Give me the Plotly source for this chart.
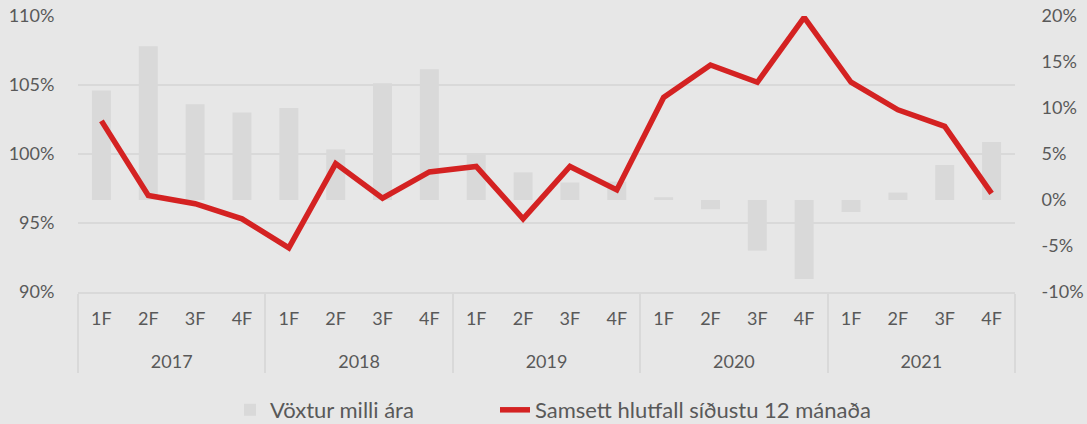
import plotly.graph_objects as go

years = ["2017"] * 4 + ["2018"] * 4 + ["2019"] * 4 + ["2020"] * 4 + ["2021"] * 4
quarters = ["1F", "2F", "3F", "4F"] * 5

# Vöxtur milli ára (right axis, %)
growth = [11.9, 16.7, 10.4, 9.5, 10.0, 5.5, 12.7, 14.2, 5.0, 3.0, 1.9, 2.0,
          0.3, -1.0, -5.5, -8.6, -1.3, 0.8, 3.8, 6.3]
# Samsett hlutfall síðustu 12 mánaða (left axis, %)
combined = [102.4, 97.0, 96.4, 95.3, 93.2, 99.3, 96.8, 98.7, 99.1, 95.3, 99.1, 97.4,
            104.1, 106.45, 105.2, 109.9, 105.2, 103.2, 102.0, 97.15]

left_ticks = [90, 95, 100, 105, 110]
right_ticks = [-10, -5, 0, 5, 10, 15, 20]

BG = "#e7e7e7"
GRID = "#d9d9d9"
BAR = "#d9d9d9"
RED = "#d42222"
TXT = "#595959"
FONT = "Lato, Open Sans, sans-serif"

# quarter labels get an empty second line to space the year row further down
q_labels = [q + "<br><span style='font-size:42px'>\u00a0</span>" for q in quarters]
xcat = [years, q_labels]

fig = go.Figure()
fig.add_trace(go.Bar(
    x=xcat, y=growth, name="Vöxtur milli ára",
    marker=dict(color=BAR, line=dict(width=0)), yaxis="y", legend="legend",
))
fig.add_trace(go.Scatter(
    x=xcat, y=combined, name="Samsett hlutfall síðustu 12 mánaða",
    mode="lines", line=dict(color=RED, width=5.5), yaxis="y2", legend="legend2",
))

leg_common = dict(orientation="h", xanchor="left", yref="container", y=0.033,
                  yanchor="middle", font=dict(size=22, color=TXT),
                  bgcolor="rgba(0,0,0,0)")

fig.update_layout(
    width=1087, height=424,
    paper_bgcolor=BG, plot_bgcolor=BG,
    margin=dict(l=78, r=72, t=16, b=132),
    font=dict(family=FONT, size=18, color=TXT),
    bargap=0.595,
    showlegend=True,
    legend=dict(x=(230 - 78) / 937, **leg_common),
    legend2=dict(x=(495 - 78) / 937, **leg_common),
    xaxis=dict(
        type="multicategory", showline=True, linecolor=GRID, linewidth=1.5,
        showdividers=True, dividercolor=GRID, dividerwidth=1.5,
        tickfont=dict(size=18, color=TXT), showgrid=False, automargin=False,
        ticklabelstandoff=10,
    ),
    yaxis=dict(
        side="right", range=[-10, 20], tickvals=right_ticks,
        ticktext=[f"{v}%" for v in right_ticks],
        showgrid=False, zeroline=False, showline=False, automargin=False,
        tickfont=dict(size=18, color=TXT), ticks="outside", ticklen=22,
        tickcolor="rgba(0,0,0,0)",
    ),
    yaxis2=dict(
        overlaying="y", side="left", range=[90, 110], tickvals=left_ticks,
        ticktext=[f"{v}%" for v in left_ticks],
        showgrid=True, gridcolor=GRID, gridwidth=1.5, zeroline=False, showline=False,
        automargin=False,
        tickfont=dict(size=18, color=TXT), ticks="outside", ticklen=19,
        tickcolor="rgba(0,0,0,0)",
    ),
)

fig.write_html(
    "out.html",
    config={"displayModeBar": False},
    post_script="document.body.style.margin='0';document.body.style.padding='0';",
)
